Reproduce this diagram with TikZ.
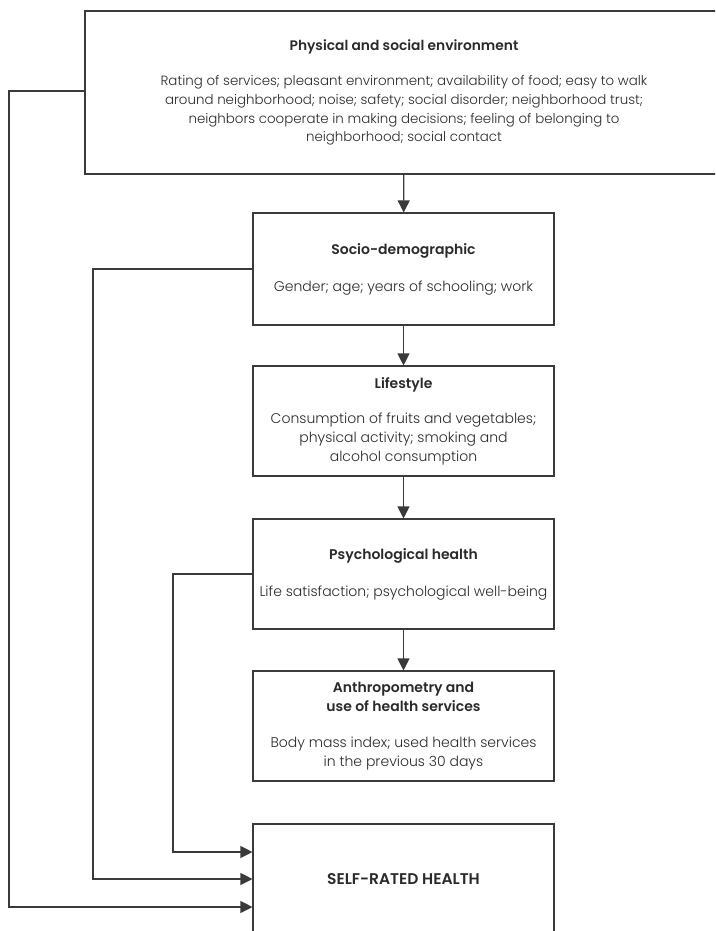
\documentclass[tikz,border=0pt]{standalone}
\usepackage{fontspec}
\setmainfont{Poppins}[UprightFont=* Light, BoldFont=* SemiBold]
\usetikzlibrary{arrows.meta}
\definecolor{linec}{HTML}{3A3A3C}
\definecolor{textc}{HTML}{2A2A2C}
\tikzset{
  box/.style={draw=linec, line width=1.1pt, rectangle, align=center, inner sep=0pt,
    text=textc, font=\fontsize{14}{19}\selectfont, minimum width=301pt, minimum height=110pt},
  conn/.style={draw=linec, line width=1.1pt},
  arr/.style={conn, -{Triangle[length=12pt,width=12pt]}},
}
\begin{document}
\begin{tikzpicture}[x=1pt,y=-1pt]
\useasboundingbox (0,0) rectangle (715,931);
\clip (0,0) rectangle (715,931);
\node[box, minimum width=638pt, minimum height=163pt, font=\fontsize{13.4}{18.7}\selectfont] (env) at (404,92.5)
  {{\fontsize{13.8}{18.7}\selectfont\textbf{Physical and social environment}}\\[16.5pt]
   Rating of services; pleasant environment; availability of food; easy to walk\\
   around neighborhood; noise; safety; social disorder; neighborhood trust;\\
   neighbors cooperate in making decisions; feeling of belonging to\\
   neighborhood; social contact};
\node[box, minimum height=112pt] (socio) at (403.5,269)
  {\textbf{Socio-demographic}\\[18pt]
   Gender; age; years of schooling; work};
\node[box] (life) at (403.5,421)
  {\textbf{Lifestyle}\\[16pt]
   Consumption of fruits and vegetables;\\
   physical activity; smoking and\\
   alcohol consumption};
\node[box] (psych) at (403.5,574)
  {\textbf{Psychological health}\\[18pt]
   Life satisfaction; psychological well-being};
\node[box] (anthro) at (403.5,726)
  {\textbf{Anthropometry and}\\
   \textbf{use of health services}\\[17pt]
   Body mass index; used health services\\
   in the previous 30 days};
\node[box, font=\fontsize{15.5}{19}\selectfont] (self) at (403.5,879) {\textbf{SELF-RATED HEALTH}};
\draw[arr] (env) -- (socio);
\draw[arr] (socio) -- (life);
\draw[arr] (life) -- (psych);
\draw[arr] (psych) -- (anthro);
\coordinate (cenv) at (9,500);
\coordinate (csocio) at (93,500);
\coordinate (cpsych) at (173,700);
\draw[arr] ([yshift=1.5pt]env.west) -| (cenv) |- ([yshift=-28pt]self.west);
\draw[arr] (socio.west) -| (csocio) |- (self.west);
\draw[arr] (psych.west) -| (cpsych) |- ([yshift=27pt]self.west);
\end{tikzpicture}
\end{document}
